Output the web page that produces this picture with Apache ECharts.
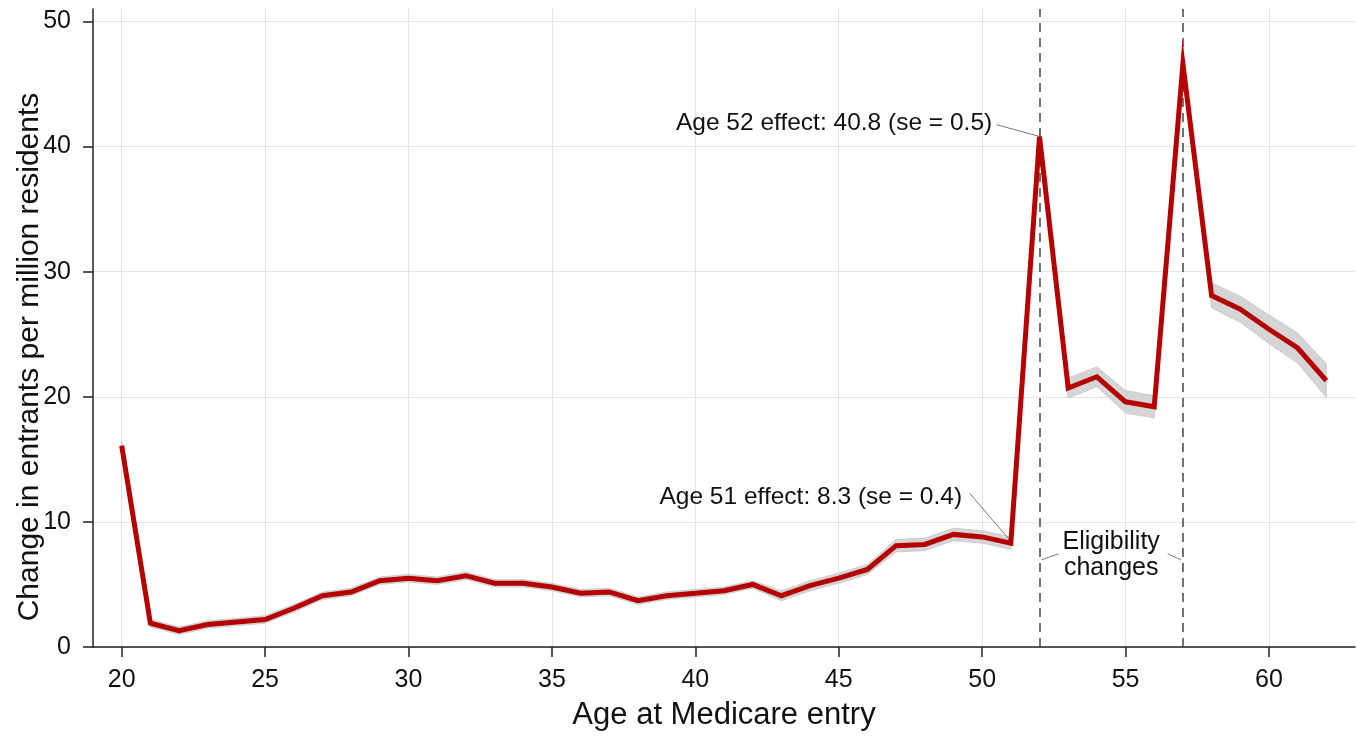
<!DOCTYPE html>
<html>
<head>
<meta charset="utf-8">
<script type="text/javascript" src="https://cdn.jsdelivr.net/npm/echarts@6/dist/echarts.min.js"></script>
<style>
 html, body { margin: 0; padding: 0; background: #fff; }
 #chart { width: 1357px; height: 736px; }
</style>
</head>
<body>
<div id="chart"></div>
<script type="text/javascript">
// ages 20..62
var ages = [20,21,22,23,24,25,26,27,28,29,30,31,32,33,34,35,36,37,38,39,40,41,42,43,44,45,46,47,48,49,50,51,52,53,54,55,56,57,58,59,60,61,62];
var effect = [16.1,1.9,1.3,1.8,2.0,2.2,3.1,4.1,4.4,5.3,
              5.5,5.3,5.7,5.1,5.1,4.8,4.3,4.4,3.7,4.1,
              4.3,4.5,5.0,4.1,4.9,5.5,6.2,8.1,8.2,9.0,
              8.8,8.3,40.8,20.7,21.6,19.6,19.2,46.6,28.1,27.0,
              25.4,23.9,21.3];
var ciLower = [15.8,1.6,1.0,1.5,1.7,1.9,2.8,3.8,4.1,5.0,
               5.2,5.0,5.4,4.8,4.8,4.5,4.0,4.1,3.4,3.8,
               4.0,4.2,4.7,3.7,4.5,5.1,5.8,7.6,7.7,8.5,
               8.3,7.8,40.3,19.9,20.8,18.7,18.3,45.8,27.1,25.95,
               24.25,22.7,19.95];
var ciUpper = [16.4,2.2,1.6,2.1,2.3,2.5,3.4,4.4,4.7,5.6,
               5.8,5.6,6.0,5.4,5.4,5.1,4.6,4.7,4.0,4.4,
               4.6,4.8,5.3,4.5,5.3,5.9,6.6,8.6,8.7,9.5,
               9.3,8.8,41.3,21.5,22.4,20.5,20.1,47.4,29.1,28.05,
               26.55,25.1,22.65];
var xTicks = [20,25,30,35,40,45,50,55,60];
var yTicks = [0,10,20,30,40,50];
var eligibilityAges = [52,57];

var FONT = "'Liberation Sans', Arial, sans-serif";

function pairs(vals) {
 var out = [];
 for (var i = 0; i < ages.length; i++) out.push([ages[i], vals[i]]);
 return out;
}

// confidence band as one polygon: upper edge left->right, lower edge right->left
function renderBand(params, api) {
 var pts = [];
 for (var i = 0; i < ages.length; i++) pts.push(api.coord([ages[i], ciUpper[i]]));
 for (var j = ages.length - 1; j >= 0; j--) pts.push(api.coord([ages[j], ciLower[j]]));
 return {
  type: 'polygon',
  shape: { points: pts },
  style: { fill: '#d5d5d5', stroke: '#c6c6c6', lineWidth: 0.8 }
 };
}

var chart = echarts.init(document.getElementById('chart'));

chart.setOption({
 animation: false,
 textStyle: { fontFamily: FONT },
 grid: { left: 93, right: 2, top: 9, bottom: 89, outerBoundsMode: 'none', containLabel: false },
 xAxis: {
  type: 'value', min: 19, max: 63,
  name: 'Age at Medicare entry', nameLocation: 'middle', nameGap: 53,
  nameTextStyle: { fontSize: 31, color: '#111' },
  axisLine: { show: true, onZero: false, lineStyle: { color: '#222', width: 1.5 } },
  axisTick: { show: true, length: 10, customValues: xTicks, lineStyle: { color: '#222', width: 1.5 } },
  axisLabel: { customValues: xTicks, fontSize: 25, color: '#111', margin: 21 },
  splitLine: { show: true, lineStyle: { color: '#e3e3e3', width: 1 } }
 },
 yAxis: {
  type: 'value', min: 0, max: 51,
  name: 'Change in entrants per million residents', nameLocation: 'middle', nameGap: 48,
  nameMoveOverlap: false,
  nameTextStyle: { fontSize: 30, color: '#111', padding: [0, 58, 0, 0] },
  axisLine: { show: true, lineStyle: { color: '#222', width: 1.5 } },
  axisTick: { show: true, length: 10, customValues: yTicks, lineStyle: { color: '#222', width: 1.5 } },
  axisLabel: { customValues: yTicks, fontSize: 25, color: '#111', margin: 22 },
  splitLine: { show: true, lineStyle: { color: '#e3e3e3', width: 1 } }
 },
 series: [
  {
   type: 'custom', renderItem: renderBand, data: [[ages[0], ciLower[0]]],
   encode: { x: 0, y: 1 }, silent: true, z: 1
  },
  { // eligibility change lines + leader lines
   type: 'line', data: [], symbol: 'none', z: 3,
   markLine: {
    silent: true, symbol: 'none', label: { show: false }, animation: false,
    data: [
     { xAxis: eligibilityAges[0], lineStyle: { color: '#444', width: 1.5, type: [9, 6] } },
     { xAxis: eligibilityAges[1], lineStyle: { color: '#444', width: 1.5, type: [9, 6] } },
     [{ coord: [50.5, 41.75], lineStyle: { color: '#777', width: 1, type: 'solid' } }, { coord: [51.95, 40.85] }],
     [{ coord: [49.56, 12.3], lineStyle: { color: '#777', width: 1, type: 'solid' } }, { coord: [51.0, 8.45] }],
     [{ coord: [52.67, 7.45], lineStyle: { color: '#777', width: 1, type: 'solid' } }, { coord: [52.07, 6.97] }],
     [{ coord: [56.47, 7.45], lineStyle: { color: '#777', width: 1, type: 'solid' } }, { coord: [56.93, 6.97] }]
    ]
   }
  },
  { // main estimate line
   type: 'line', data: pairs(effect), symbol: 'none', z: 5,
   lineStyle: { color: '#b40000', width: 5, join: 'miter' },
   markPoint: {
    symbol: 'circle', symbolSize: 0, silent: true,
    label: { show: true, color: '#111', fontSize: 24.5, fontFamily: FONT },
    data: [
     { coord: [50.35, 41.9], label: { position: 'left', distance: 0, formatter: 'Age 52 effect: 40.8 (se = 0.5)' } },
     { coord: [49.3, 12.0], label: { position: 'left', distance: 0, formatter: 'Age 51 effect: 8.3 (se = 0.4)' } },
     { coord: [54.5, 7.35], label: { position: 'inside', align: 'center', fontSize: 25, lineHeight: 26, formatter: 'Eligibility\nchanges' } }
    ]
   }
  }
 ]
});
</script>
</body>
</html>
